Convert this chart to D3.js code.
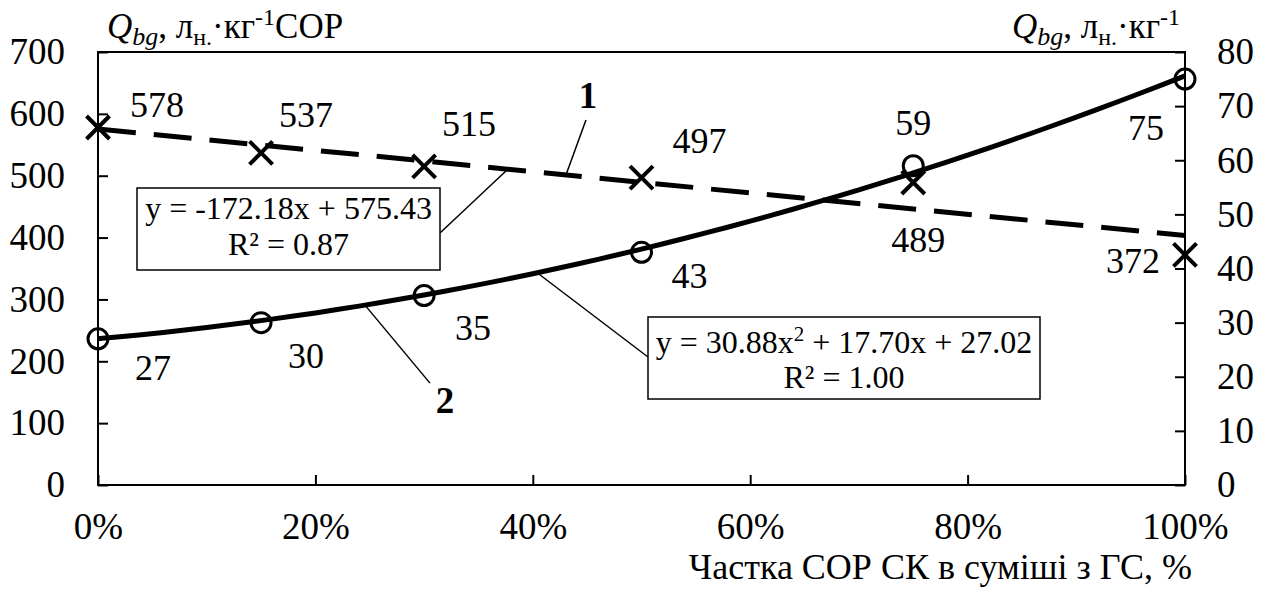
<!DOCTYPE html>
<html>
<head>
<meta charset="utf-8">
<script src="https://cdn.jsdelivr.net/npm/d3@7"></script>
<style>
  body { margin: 0; background: #fff; }
  svg text { font-family: "Liberation Serif", Tinos, "Times New Roman", Times, serif; fill: #000; }
</style>
</head>
<body>
<svg id="chart" width="1272" height="594"></svg>
<script>
// share of COP SK in the mix
const shares = [0, 0.15, 0.30, 0.50, 0.75, 1.00];
// series 1 (left axis), l/kg COP
const yieldCOP = [578, 537, 515, 497, 489, 372];
// series 2 (right axis), l/kg
const yieldMix = [27, 30, 35, 43, 59, 75];
// trendline coefficients as printed on the chart
const linCoef = [-172.18, 575.43];
const polyCoef = [30.88, 17.70, 27.02];
const leftTicks = [0, 100, 200, 300, 400, 500, 600, 700];
const rightTicks = [0, 10, 20, 30, 40, 50, 60, 70, 80];
const xTicks = [0, 0.2, 0.4, 0.6, 0.8, 1.0];

// label offsets (px) from each point
const offCOP = [[59, -10], [45, -26], [45, -30], [58, -25], [5, 69], [-52, 18]];
const offMix = [[55, 41], [45, 45], [49, 44], [48, 36], [0, -31], [-39, 61]];

const margin = { top: 52, right: 87, bottom: 109, left: 98 };
const W = 1272, H = 594;
const svg = d3.select('#chart');

const x = d3.scaleLinear().domain([0, 1]).range([margin.left, W - margin.right]);
const yL = d3.scaleLinear().domain([0, 700]).range([H - margin.bottom, margin.top]);
const yR = d3.scaleLinear().domain([0, 80]).range([H - margin.bottom, margin.top]);

const FS = 37;   // tick labels
const LFS = 36;  // data labels, axis title

// frame
svg.append('rect')
  .attr('x', x(0)).attr('y', yL(700))
  .attr('width', x(1) - x(0)).attr('height', yL(0) - yL(700))
  .attr('fill', 'none').attr('stroke', '#000').attr('stroke-width', 2);

// axes, ticks pointing inward
const styleAxis = g => {
  g.attr('font-family', null);
  g.select('.domain').remove();
  g.selectAll('line').attr('stroke', '#000').attr('stroke-width', 2);
  g.selectAll('text').style('font-size', FS + 'px').attr('fill', '#000');
};

svg.append('g')
  .attr('transform', 'translate(' + x(0) + ',0)')
  .call(d3.axisLeft(yL).tickValues(leftTicks).tickSize(-10).tickPadding(33))
  .call(styleAxis);

svg.append('g')
  .attr('transform', 'translate(' + x(1) + ',0)')
  .call(d3.axisRight(yR).tickValues(rightTicks).tickSize(-10).tickPadding(32))
  .call(styleAxis);

svg.append('g')
  .attr('transform', 'translate(0,' + yL(0) + ')')
  .call(d3.axisBottom(x).tickValues(xTicks).tickSize(-10).tickPadding(28).tickFormat(d3.format('.0%')))
  .call(styleAxis);

// trendlines
const linFn = v => linCoef[0] * v + linCoef[1];
const polyFn = v => polyCoef[0] * v * v + polyCoef[1] * v + polyCoef[2];

svg.append('path')
  .attr('d', d3.line().x(d => x(d)).y(d => yL(linFn(d)))([0, 1]))
  .attr('fill', 'none').attr('stroke', '#000').attr('stroke-width', 5)
  .attr('stroke-dasharray', '38,18');

const xs = d3.range(0, 1.0001, 0.02);
svg.append('path')
  .attr('d', d3.line().x(d => x(d)).y(d => yR(polyFn(d))).curve(d3.curveMonotoneX)(xs))
  .attr('fill', 'none').attr('stroke', '#000').attr('stroke-width', 5);

// markers
const cross = 11.5;
svg.selectAll('.mk1').data(shares).enter().append('path')
  .attr('d', (d, i) => {
    const cx = x(d), cy = yL(yieldCOP[i]);
    return 'M' + (cx - cross) + ',' + (cy - cross) + 'L' + (cx + cross) + ',' + (cy + cross) +
      'M' + (cx - cross) + ',' + (cy + cross) + 'L' + (cx + cross) + ',' + (cy - cross);
  })
  .attr('stroke', '#000').attr('stroke-width', 4).attr('fill', 'none');

svg.selectAll('.mk2').data(shares).enter().append('circle')
  .attr('cx', d => x(d))
  .attr('cy', (d, i) => yR(yieldMix[i]))
  .attr('r', 10)
  .attr('fill', 'none').attr('stroke', '#000').attr('stroke-width', 3);

// data labels
svg.selectAll('.lb1').data(shares).enter().append('text')
  .attr('x', (d, i) => x(d) + offCOP[i][0])
  .attr('y', (d, i) => yL(yieldCOP[i]) + offCOP[i][1])
  .attr('text-anchor', 'middle').style('font-size', LFS + 'px')
  .text((d, i) => yieldCOP[i]);

svg.selectAll('.lb2').data(shares).enter().append('text')
  .attr('x', (d, i) => x(d) + offMix[i][0])
  .attr('y', (d, i) => yR(yieldMix[i]) + offMix[i][1])
  .attr('text-anchor', 'middle').style('font-size', LFS + 'px')
  .text((d, i) => yieldMix[i]);

// leader lines
const leader = (x1, y1, x2, y2) => svg.append('line')
  .attr('x1', x1).attr('y1', y1).attr('x2', x2).attr('y2', y2)
  .attr('stroke', '#000').attr('stroke-width', 1.5);

// "1" and "2" series numbers
const p1 = 0.4305, p2 = 0.2456;
leader(x(p1), yL(linFn(p1)), x(p1) + 20, yL(linFn(p1)) - 55);
svg.append('text').attr('x', x(p1) + 22).attr('y', yL(linFn(p1)) - 67)
  .attr('text-anchor', 'middle').style('font-size', '37px').style('font-weight', 'bold').text('1');

leader(x(p2), yR(polyFn(p2)), x(p2) + 65, yR(polyFn(p2)) + 78);
svg.append('text').attr('x', x(p2) + 80).attr('y', yR(polyFn(p2)) + 108)
  .attr('text-anchor', 'middle').style('font-size', '37px').style('font-weight', 'bold').text('2');

// equation boxes
const b1 = { x: 137, y: 188, w: 303, h: 82 };
const b2 = { x: 648, y: 317, w: 392, h: 82 };
const e1 = 0.377, e2 = 0.404;
leader(x(e1), yL(linFn(e1)), b1.x + b1.w, b1.y + 45);
leader(x(e2), yR(polyFn(e2)), b2.x, b2.y + 40);

[b1, b2].forEach(b => svg.append('rect')
  .attr('x', b.x).attr('y', b.y).attr('width', b.w).attr('height', b.h)
  .attr('fill', '#fff').attr('stroke', '#000').attr('stroke-width', 1.5));

const eqFS = 32;
svg.append('text').attr('x', b1.x + b1.w / 2).attr('y', b1.y + 31)
  .attr('text-anchor', 'middle').style('font-size', eqFS + 'px')
  .text('y = ' + linCoef[0].toFixed(2) + 'x + ' + linCoef[1].toFixed(2));
svg.append('text').attr('x', b1.x + b1.w / 2).attr('y', b1.y + 67)
  .attr('text-anchor', 'middle').style('font-size', eqFS + 'px').text('R² = 0.87');

const t2 = svg.append('text').attr('x', b2.x + b2.w / 2).attr('y', b2.y + 36)
  .attr('text-anchor', 'middle').style('font-size', eqFS + 'px');
t2.append('tspan').text('y = ' + polyCoef[0].toFixed(2) + 'x');
t2.append('tspan').attr('dy', -12).style('font-size', '21px').text('2');
t2.append('tspan').attr('dy', 12).text(' + ' + polyCoef[1].toFixed(2) + 'x + ' + polyCoef[2].toFixed(2));
svg.append('text').attr('x', b2.x + b2.w / 2).attr('y', b2.y + 71)
  .attr('text-anchor', 'middle').style('font-size', eqFS + 'px').text('R² = 1.00');

// axis titles
const unitTitle = (g, withCOP) => {
  g.append('tspan').style('font-style', 'italic').text('Q');
  g.append('tspan').style('font-style', 'italic').style('font-size', '26px').attr('dy', 7).text('bg');
  g.append('tspan').attr('dy', -7).text(', л');
  g.append('tspan').style('font-size', '24px').attr('dy', 7).text('н.');
  g.append('tspan').attr('dy', -7).text('·кг');
  g.append('tspan').style('font-size', '24px').attr('dy', -13).text('-1');
  g.append('tspan').attr('dy', 13).text(withCOP ? 'СОР' : '');
};

const tl = svg.append('text').attr('x', 107).attr('y', 38).style('font-size', '35px');
unitTitle(tl, true);
const tr = svg.append('text').attr('x', 1180).attr('y', 38).attr('text-anchor', 'end').style('font-size', '35px');
unitTitle(tr, false);

svg.append('text').attr('x', 1192).attr('y', 579).attr('text-anchor', 'end')
  .style('font-size', LFS + 'px').text('Частка СОР СК в суміші з ГС, %');
</script>
</body>
</html>
